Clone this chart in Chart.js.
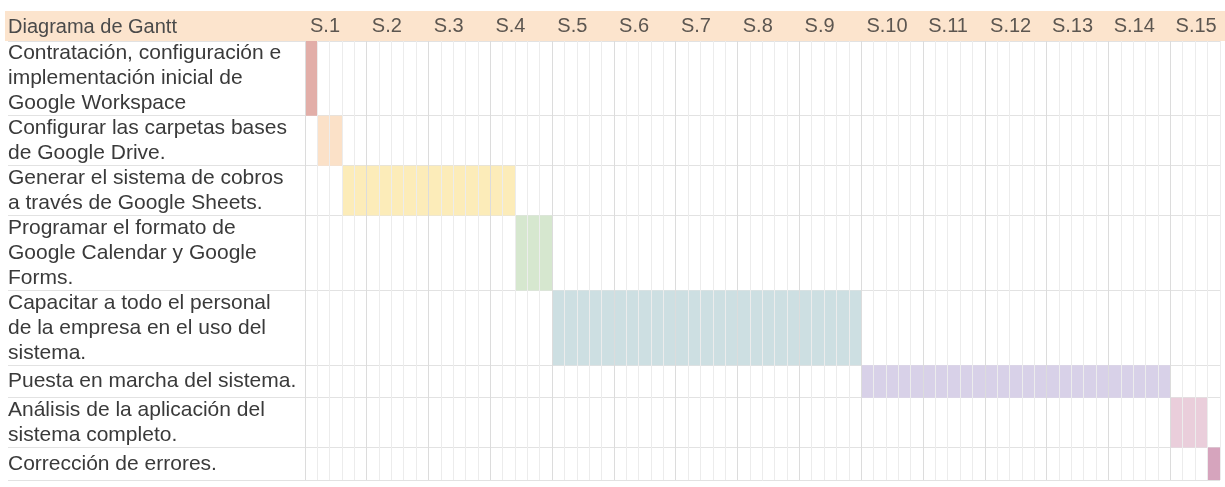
<!DOCTYPE html>
<html>
<head>
<meta charset="utf-8">
<script src="https://cdn.jsdelivr.net/npm/chart.js@4"></script>
<style>
  html, body { margin: 0; padding: 0; background: #fff; }
  #wrap { width: 1225px; height: 487px; position: relative; }
</style>
</head>
<body>
<div id="wrap"><canvas id="gantt"></canvas></div>
<script>
const headerTitle = 'Diagrama de Gantt';

const weekLabels = ['S.1', 'S.2', 'S.3', 'S.4', 'S.5', 'S.6', 'S.7', 'S.8',
  'S.9', 'S.10', 'S.11', 'S.12', 'S.13', 'S.14', 'S.15'];

const taskLabels = [
  ['Contratación, configuración e', 'implementación inicial de', 'Google Workspace'],
  ['Configurar las carpetas bases', 'de Google Drive.'],
  ['Generar el sistema de cobros', 'a través de Google Sheets.'],
  ['Programar el formato de', 'Google Calendar y Google', 'Forms.'],
  ['Capacitar a todo el personal', 'de la empresa en el uso del', 'sistema.'],
  ['Puesta en marcha del sistema.'],
  ['Análisis de la aplicación del', 'sistema completo.'],
  ['Corrección de errores.']
];

// start / end in working days (5 per week)
const startDay = [0, 1, 3, 17, 20, 45, 70, 73];
const endDay = [1, 3, 17, 20, 45, 70, 73, 75];

const taskColors = ['#e2aea8', '#fbe1c8', '#fcecb9', '#d6e7cf', '#cddfe2', '#d8d1e8', '#eacedb', '#d6a4bd'];

const daysPerWeek = 5;
const lastDay = 74;

// row heights follow the number of text lines
const rowSpan = taskLabels.map(l => Math.max(l.length, 1.3));
const rowTop = [];
const rowBottom = [];
let acc = 0;
rowSpan.forEach(s => { rowTop.push(acc); acc += s; rowBottom.push(acc); });
const totalRows = acc;

const yTicks = [0];
rowTop.forEach((t, i) => { yTicks.push(t + rowSpan[i] / 2); yTicks.push(rowBottom[i]); });

const FONT = "'Liberation Sans', Arial, sans-serif";

const headerBand = {
  id: 'headerBand',
  beforeDraw(chart) {
    const { ctx, chartArea } = chart;
    ctx.save();
    ctx.fillStyle = '#fce4cd';
    ctx.fillRect(5, 11, chart.width - 5, chartArea.top - 11);
    ctx.fillStyle = '#4a4a4a';
    ctx.font = '20px ' + FONT;
    ctx.textBaseline = 'middle';
    ctx.fillText(headerTitle, 8, (11 + chartArea.top) / 2 + 1);
    ctx.restore();
  }
};

const datasets = taskLabels.map((l, i) => ({
  label: l.join(' '),
  data: [{ x: startDay[i], y: rowTop[i] }, { x: endDay[i], y: rowTop[i] }],
  backgroundColor: taskColors[i],
  borderColor: taskColors[i],
  borderWidth: 0,
  pointRadius: 0,
  fill: { target: { value: rowBottom[i] } }
}));

new Chart(document.getElementById('gantt'), {
  type: 'line',
  data: { datasets },
  plugins: [headerBand],
  options: {
    responsive: true,
    maintainAspectRatio: false,
    animation: false,
    layout: { padding: { top: 11, left: 8, right: 5, bottom: 7 } },
    plugins: { legend: { display: false }, tooltip: { enabled: false } },
    scales: {
      x: {
        type: 'linear',
        position: 'top',
        min: 0,
        max: lastDay,
        afterBuildTicks: scale => {
          const t = [];
          for (let d = 0; d <= lastDay; d++) t.push({ value: d });
          scale.ticks = t;
        },
        ticks: {
          autoSkip: false,
          maxRotation: 0,
          align: 'start',
          labelOffset: 5,
          padding: 3,
          color: '#5c5650',
          font: { family: FONT, size: 20 },
          callback: v => (v % daysPerWeek === 0 ? weekLabels[v / daysPerWeek] : '')
        },
        grid: {
          z: 1,
          drawTicks: false,
          color: ctx => (ctx.tick && ctx.tick.value % daysPerWeek === 0 ? '#dcdcdc' : '#ececec')
        },
        border: { display: false }
      },
      y: {
        type: 'linear',
        reverse: true,
        min: 0,
        max: totalRows,
        afterBuildTicks: scale => { scale.ticks = yTicks.map(v => ({ value: v })); },
        afterFit: scale => { scale.width = 297; },
        ticks: {
          autoSkip: false,
          crossAlign: 'far',
          padding: 0,
          color: '#3a3a3a',
          font: { family: FONT, size: 21, lineHeight: '25px' },
          callback: (v, i) => (i % 2 === 1 ? taskLabels[(i - 1) / 2] : [])
        },
        grid: {
          tickLength: 297,
          color: ctx => (ctx.index % 2 === 0 ? '#e2e2e2' : 'transparent'),
          tickColor: ctx => (ctx.index % 2 === 0 ? '#e2e2e2' : 'transparent')
        },
        border: { display: false }
      }
    }
  }
});
</script>
</body>
</html>
